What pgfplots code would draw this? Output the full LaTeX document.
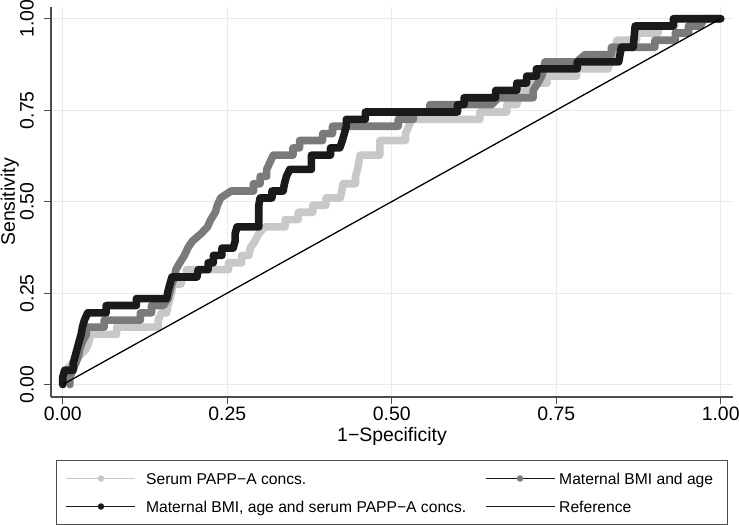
\documentclass[border=0pt]{standalone}
\usepackage{fontspec}
\setmainfont{Liberation Sans}
\usepackage{pgfplots}
\pgfplotsset{compat=1.18}
\usetikzlibrary{calc}
\definecolor{lgray}{HTML}{C8C8C8}
\definecolor{mgray}{HTML}{7A7A7A}
\definecolor{dblack}{HTML}{1A1A1A}
\definecolor{gridc}{HTML}{EAEAEA}
\definecolor{axc}{HTML}{4D4D4D}
\begin{document}
\begin{tikzpicture}
\begin{axis}[
  name=ax, scale only axis, width=682bp, height=390bp,
  xmin=-0.0178, xmax=1.0187, ymin=-0.034, ymax=1.032,
  axis x line*=bottom, axis y line*=left,
  axis line style={-, line width=1.1bp, color=axc},
  tick align=outside, major tick length=7bp,
  tick style={line width=1.1bp, color=axc},
  xtick={0,0.25,0.5,0.75,1}, ytick={0,0.25,0.5,0.75,1},
  xticklabels={0.00,0.25,0.50,0.75,1.00},
  yticklabels={0.00,0.25,0.50,0.75,1.00},
  xmajorgrids, ymajorgrids, grid style={gridc, line width=1bp},
  tick label style={font=\fontsize{19.5}{22}\selectfont, text=black},
  xticklabel style={anchor=north, inner sep=0pt, inner ysep=3bp},
  yticklabel style={rotate=90, anchor=south, inner sep=0pt, inner ysep=10bp},
  xlabel={1−Specificity}, ylabel={Sensitivity},
  label style={font=\fontsize{19.5}{22}\selectfont},
  xlabel style={at={(axis description cs:0.5,0)}, anchor=north, inner sep=0pt, yshift=-30bp},
  ylabel style={at={(axis description cs:-0.0469,0.5)}, anchor=south, inner sep=0pt},
  legend columns=2,
  legend cell align=left,
  legend image code/.code={\draw[mark repeat=2,mark phase=2,#1] plot coordinates {(0bp,0bp) (34.5bp,0bp) (69bp,0bp)};},
  legend style={at={(axis description cs:0.5,0)}, anchor=north, yshift=-63bp,
    draw=axc, line width=1bp, font=\fontsize{15.7}{18}\selectfont,
    inner xsep=9bp, inner ysep=9.25bp, row sep=10.5bp,
    nodes={inner sep=0pt, text height=14.5bp, text depth=3bp},
    /tikz/column 1/.style={column sep=10bp},
    /tikz/column 2/.style={column sep=18.6bp},
    /tikz/column 3/.style={column sep=4bp}},
]
% Serum PAPP-A concs.
\addplot[forget plot, color=lgray, line width=7.6bp, line cap=round, line join=round] coordinates {
(0,0) (0.002,0.020) (0.005,0.039) (0.015,0.059) (0.025,0.078) (0.036,0.098) (0.040,0.118) (0.042,0.137) (0.082,0.137) (0.082,0.157) (0.145,0.157) (0.145,0.176) (0.150,0.196) (0.158,0.196) (0.160,0.216) (0.163,0.235) (0.166,0.255) (0.168,0.275) (0.180,0.275) (0.182,0.294) (0.188,0.294) (0.188,0.314) (0.252,0.314) (0.252,0.333) (0.272,0.333) (0.272,0.353) (0.283,0.353) (0.285,0.373) (0.292,0.392) (0.298,0.412) (0.307,0.431) (0.338,0.431) (0.338,0.451) (0.358,0.451) (0.358,0.471) (0.380,0.471) (0.380,0.490) (0.400,0.490) (0.400,0.510) (0.422,0.510) (0.424,0.529) (0.426,0.549) (0.445,0.549) (0.445,0.569) (0.448,0.588) (0.450,0.608) (0.452,0.627) (0.482,0.627) (0.482,0.647) (0.482,0.667) (0.521,0.667) (0.521,0.686) (0.526,0.706) (0.530,0.725) (0.634,0.725) (0.634,0.745) (0.675,0.745) (0.675,0.765) (0.690,0.765) (0.693,0.784) (0.697,0.804) (0.710,0.804) (0.712,0.824) (0.736,0.824) (0.736,0.843) (0.781,0.843) (0.781,0.863) (0.829,0.863) (0.832,0.882) (0.838,0.902) (0.842,0.922) (0.842,0.941) (0.872,0.941) (0.872,0.961) (0.905,0.961) (0.905,0.980) (0.930,0.980) (0.930,1.0) (1,1)
};
% Maternal BMI and age
\addplot[forget plot, color=mgray, line width=7.6bp, line cap=round, line join=round] coordinates {
(0.011,0) (0.011,0.020) (0.015,0.039) (0.020,0.059) (0.024,0.078) (0.026,0.098) (0.030,0.118) (0.036,0.137) (0.036,0.157) (0.063,0.157) (0.063,0.176) (0.118,0.176) (0.118,0.196) (0.135,0.196) (0.135,0.216) (0.153,0.216) (0.160,0.235) (0.163,0.255) (0.166,0.275) (0.170,0.294) (0.172,0.314) (0.178,0.333) (0.185,0.353) (0.190,0.373) (0.197,0.392) (0.210,0.412) (0.220,0.431) (0.225,0.451) (0.232,0.471) (0.235,0.490) (0.240,0.510) (0.256,0.529) (0.290,0.529) (0.290,0.549) (0.300,0.549) (0.300,0.569) (0.310,0.569) (0.310,0.588) (0.315,0.608) (0.320,0.627) (0.350,0.627) (0.350,0.647) (0.360,0.647) (0.360,0.667) (0.395,0.667) (0.395,0.686) (0.410,0.686) (0.410,0.706) (0.510,0.706) (0.510,0.725) (0.533,0.725) (0.533,0.745) (0.558,0.745) (0.558,0.765) (0.652,0.765) (0.662,0.784) (0.715,0.784) (0.715,0.804) (0.722,0.824) (0.728,0.843) (0.731,0.863) (0.733,0.882) (0.781,0.882) (0.794,0.902) (0.834,0.902) (0.834,0.922) (0.900,0.922) (0.900,0.941) (0.931,0.941) (0.931,0.961) (0.951,0.961) (0.951,0.980) (0.969,0.980) (0.975,1.0) (1,1)
};
% Maternal BMI, age and serum PAPP-A concs.
\addplot[forget plot, color=dblack, line width=7.6bp, line cap=round, line join=round] coordinates {
(0,0) (0,0.020) (0.003,0.039) (0.016,0.039) (0.016,0.059) (0.019,0.078) (0.022,0.098) (0.025,0.118) (0.028,0.137) (0.030,0.157) (0.033,0.176) (0.038,0.196) (0.066,0.196) (0.066,0.216) (0.112,0.216) (0.112,0.235) (0.158,0.235) (0.160,0.255) (0.163,0.275) (0.166,0.294) (0.204,0.294) (0.206,0.314) (0.221,0.314) (0.221,0.333) (0.229,0.333) (0.229,0.353) (0.242,0.353) (0.242,0.373) (0.259,0.373) (0.262,0.392) (0.262,0.412) (0.265,0.431) (0.298,0.431) (0.298,0.451) (0.298,0.471) (0.298,0.490) (0.300,0.510) (0.318,0.510) (0.318,0.529) (0.335,0.529) (0.337,0.549) (0.340,0.569) (0.345,0.588) (0.378,0.588) (0.378,0.608) (0.378,0.627) (0.407,0.627) (0.407,0.647) (0.421,0.647) (0.425,0.667) (0.428,0.686) (0.431,0.706) (0.431,0.725) (0.460,0.725) (0.460,0.745) (0.600,0.745) (0.600,0.765) (0.610,0.765) (0.610,0.784) (0.658,0.784) (0.658,0.804) (0.690,0.804) (0.690,0.824) (0.705,0.824) (0.705,0.843) (0.720,0.843) (0.720,0.863) (0.782,0.863) (0.782,0.882) (0.845,0.882) (0.847,0.902) (0.849,0.922) (0.867,0.922) (0.868,0.941) (0.869,0.961) (0.870,0.980) (0.928,0.980) (0.928,1.0) (1.0,1.0)
};
% Reference
\addplot[forget plot, color=black, line width=1.3bp] coordinates {(0,0) (1,1)};
\addlegendimage{color=lgray, line width=0.9bp, mark=*, mark size=3bp, mark options={fill=lgray, draw=lgray, line width=0.3bp}}
\addlegendimage{color=dblack, line width=1.4bp, mark=*, mark size=3bp, mark options={fill=mgray, draw=mgray, line width=0.3bp}}
\addlegendimage{color=dblack, line width=1.4bp, mark=*, mark size=3bp, mark options={fill=dblack, draw=dblack, line width=0.3bp}}
\addlegendimage{color=dblack, line width=1.4bp}
\legend{Serum PAPP−A concs., \makebox[159bp][l]{Maternal BMI and age}, {Maternal BMI, age and serum PAPP−A concs.}, Reference}
\end{axis}
\pgfresetboundingbox
\path ($(ax.south west)+(-51bp,-128bp)$) rectangle ($(ax.north east)+(6bp,7bp)$);
\end{tikzpicture}
\end{document}
